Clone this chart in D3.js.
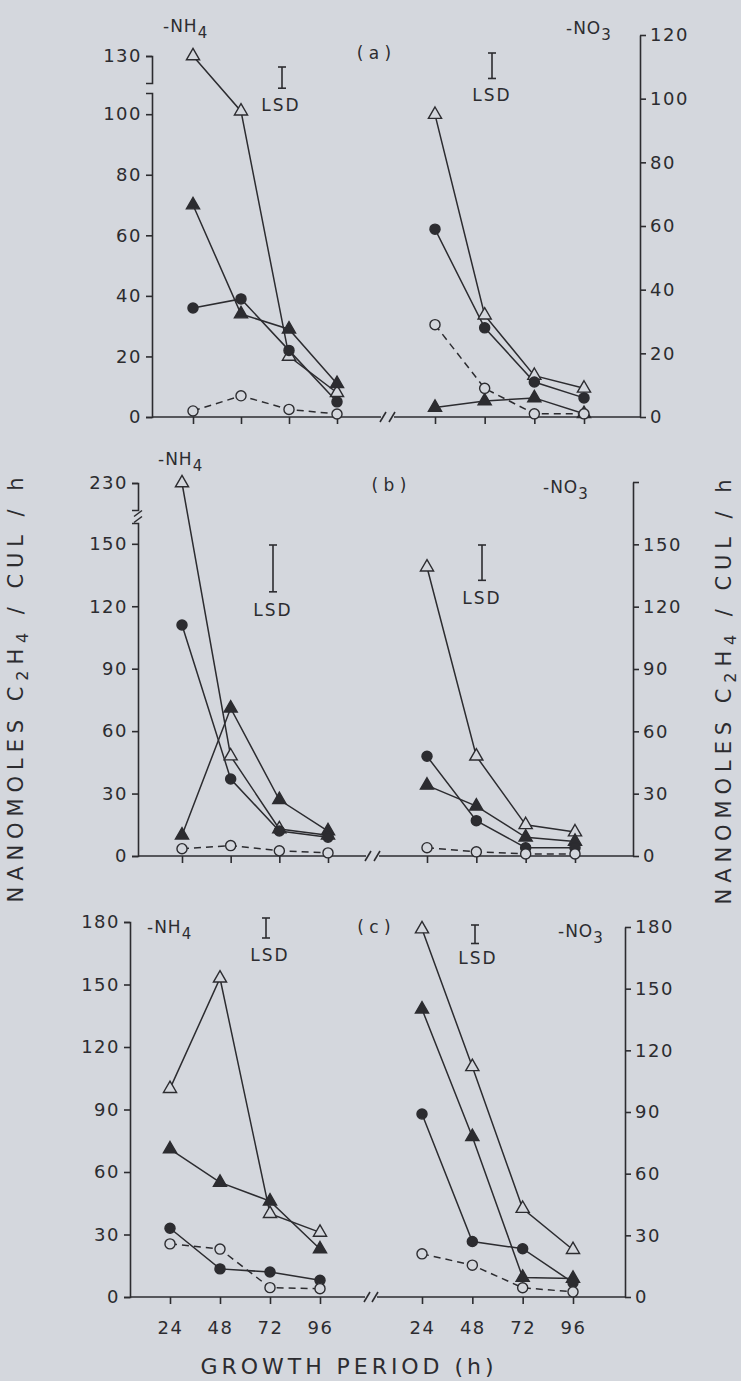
<!DOCTYPE html>
<html>
<head>
<meta charset="utf-8">
<script src="https://cdn.jsdelivr.net/npm/d3@7"></script>
<style>
body { margin: 0; background: #d4d7dd; }
svg text { font-family: "DejaVu Sans", sans-serif; fill: #2c2c30; }
</style>
</head>
<body>
<div id="chart"></div>
<script>
var svgWidth = 741;
var svgHeight = 1381;
var ink = '#2c2c30';
var paper = '#d4d7dd';

// growth period (h)
var hours = [24, 48, 72, 96];

// (a)  -NH4 side
var aNH4OpenTri = [130, 101, 20, 8];
var aNH4FilledTri = [70, 34, 29, 11];
var aNH4FilledCirc = [36, 39, 22, 5];
var aNH4OpenCirc = [2, 7, 2.5, 1];
// (a)  -NO3 side
var aNO3OpenTri = [95, 32, 13, 9];
var aNO3FilledTri = [3, 5, 6, 1];
var aNO3FilledCirc = [59, 28, 11, 6];
var aNO3OpenCirc = [29, 9, 1, 1];

// (b)  -NH4 side
var bNH4OpenTri = [230, 48, 13, 10];
var bNH4FilledTri = [10, 71, 27, 12];
var bNH4FilledCirc = [111, 37, 12, 9];
var bNH4OpenCirc = [3.5, 5, 2.5, 1.5];
// (b)  -NO3 side
var bNO3OpenTri = [139, 48, 15, 11.5];
var bNO3FilledTri = [34, 24, 9, 7];
var bNO3FilledCirc = [48, 17, 4, 4];
var bNO3OpenCirc = [4, 2, 1, 1];

// (c)  -NH4 side
var cNH4OpenTri = [100, 153, 40, 31];
var cNH4FilledTri = [71, 55, 46, 23];
var cNH4FilledCirc = [33, 13.5, 12, 8];
var cNH4OpenCirc = [25.5, 23, 4.5, 4];
// (c)  -NO3 side
var cNO3OpenTri = [179, 112, 43, 23];
var cNO3FilledTri = [140, 78, 9.5, 9];
var cNO3FilledCirc = [89, 27, 23.5, 7];
var cNO3OpenCirc = [21, 15.5, 4.5, 2.5];

// LSD bar lengths, in axis units (a, b, c)
var lsdNH4 = [7, 22.5, 9.6];
var lsdNO3 = [8, 17, 9];

// tick values
var aNH4Ticks = [0, 20, 40, 60, 80, 100];
var aNH4BreakTicks = [130];
var aNO3Ticks = [0, 20, 40, 60, 80, 100, 120];
var bNH4Ticks = [0, 30, 60, 90, 120, 150];
var bNH4BreakTicks = [230];
var bNO3Ticks = [0, 30, 60, 90, 120, 150, 180];
var cTicks = [0, 30, 60, 90, 120, 150, 180];

var seriesStyle = [
    { shape: d3.symbolTriangle, size: 75, filled: false, dash: null },
    { shape: d3.symbolTriangle, size: 75, filled: true, dash: null },
    { shape: d3.symbolCircle, size: 80, filled: true, dash: null },
    { shape: d3.symbolCircle, size: 80, filled: false, dash: '7,5' }
];

var panels = [
    {
        name: '(a)', nameX: 374, nameY: 59,
        base: 417, leftX: 152, rightX: 640, gap: [383, 392],
        xLeft: [193, 337], xRight: [435, 584], xLabels: false,
        left: { domain: [0, 107], range: [417, 93], ticks: aNH4Ticks,
                brk: { domain: [121, 130], range: [83, 56], ticks: aNH4BreakTicks, split: 110 } },
        right: { domain: [0, 120], range: [417, 35], ticks: aNO3Ticks, hideTop: false },
        nh4: [aNH4OpenTri, aNH4FilledTri, aNH4FilledCirc, aNH4OpenCirc],
        no3: [aNO3OpenTri, aNO3FilledTri, aNO3FilledCirc, aNO3OpenCirc],
        nh4Label: [163, 32], no3Label: [566, 34],
        lsdL: [282, 67, lsdNH4[0]], lsdR: [492, 53, lsdNO3[0]],
        lsdTextL: [281, 111], lsdTextR: [492, 101]
    },
    {
        name: '(b)', nameX: 389, nameY: 491,
        base: 856, leftX: 138, rightX: 633, gap: [368, 377],
        xLeft: [182, 328], xRight: [427, 575], xLabels: false,
        left: { domain: [0, 160], range: [856, 523], ticks: bNH4Ticks,
                brk: { domain: [217, 230], range: [510, 483], ticks: bNH4BreakTicks, split: 170 } },
        right: { domain: [0, 180], range: [856, 482], ticks: bNO3Ticks, hideTop: true },
        nh4: [bNH4OpenTri, bNH4FilledTri, bNH4FilledCirc, bNH4OpenCirc],
        no3: [bNO3OpenTri, bNO3FilledTri, bNO3FilledCirc, bNO3OpenCirc],
        nh4Label: [158, 465], no3Label: [543, 493],
        lsdL: [273, 545, lsdNH4[1]], lsdR: [482, 545, lsdNO3[1]],
        lsdTextL: [273, 616], lsdTextR: [482, 604]
    },
    {
        name: '(c)', nameX: 374, nameY: 933,
        base: 1297, leftX: 130, rightX: 625, gap: [367, 375],
        xLeft: [170, 320], xRight: [422, 573], xLabels: true,
        left: { domain: [0, 180], range: [1297, 922], ticks: cTicks, brk: null },
        right: { domain: [0, 180], range: [1297, 927], ticks: cTicks, hideTop: false },
        nh4: [cNH4OpenTri, cNH4FilledTri, cNH4FilledCirc, cNH4OpenCirc],
        no3: [cNO3OpenTri, cNO3FilledTri, cNO3FilledCirc, cNO3OpenCirc],
        nh4Label: [147, 933], no3Label: [558, 937],
        lsdL: [266, 918, lsdNH4[2]], lsdR: [475, 925, lsdNO3[2]],
        lsdTextL: [270, 961], lsdTextR: [478, 964]
    }
];

var svg = d3.select('#chart').append('svg')
    .attr('width', svgWidth)
    .attr('height', svgHeight)
    .style('background', paper);

function styleAxis(g) {
    g.attr('font-family', '"DejaVu Sans", sans-serif')
        .attr('font-size', 18)
        .attr('color', ink);
    g.selectAll('path, line').attr('stroke-width', 1.6);
    g.selectAll('text').attr('letter-spacing', 1.5);
}

function chemLabel(x, y, sym, sub) {
    var t = svg.append('text')
        .attr('x', x).attr('y', y)
        .attr('font-size', 17)
        .attr('letter-spacing', 1);
    t.append('tspan').text(sym);
    t.append('tspan').attr('dy', 6).attr('font-size', 15).text(sub);
}

function lsdBar(x, top, len, yScale) {
    var h = yScale(0) - yScale(len);
    var g = svg.append('g').attr('stroke', ink).attr('stroke-width', 1.6);
    g.append('line').attr('x1', x).attr('x2', x).attr('y1', top).attr('y2', top + h);
    g.append('line').attr('x1', x - 4).attr('x2', x + 4).attr('y1', top).attr('y2', top);
    g.append('line').attr('x1', x - 4).attr('x2', x + 4).attr('y1', top + h).attr('y2', top + h);
}

function drawSeries(g, xScale, yFn, list) {
    var pts = list.map(vals => hours.map((h, i) => [xScale(h), yFn(vals[i])]));
    // lines first, markers on top
    pts.forEach((p, k) => {
        g.append('path')
            .attr('d', d3.line()(p))
            .attr('fill', 'none')
            .attr('stroke', ink)
            .attr('stroke-width', 1.5)
            .attr('stroke-dasharray', seriesStyle[k].dash);
    });
    pts.forEach((p, k) => {
        var st = seriesStyle[k];
        g.selectAll(null)
            .data(p)
            .enter()
            .append('path')
            .attr('transform', d => `translate(${d[0]},${d[1]})`)
            .attr('d', d3.symbol().type(st.shape).size(st.size))
            .attr('fill', st.filled ? ink : paper)
            .attr('stroke', ink)
            .attr('stroke-width', 1.4);
    });
}

panels.forEach(function(p) {
    var xL = d3.scaleLinear().domain([24, 96]).range(p.xLeft);
    var xR = d3.scaleLinear().domain([24, 96]).range(p.xRight);

    var yL = d3.scaleLinear().domain(p.left.domain).range(p.left.range);
    var yR = d3.scaleLinear().domain(p.right.domain).range(p.right.range);
    var yBrk = p.left.brk ? d3.scaleLinear().domain(p.left.brk.domain).range(p.left.brk.range) : null;
    var yLeftFn = function(v) {
        return (yBrk && v > p.left.brk.split) ? yBrk(v) : yL(v);
    };

    // left axis (NH4)
    svg.append('g')
        .attr('transform', `translate(${p.leftX},0)`)
        .call(d3.axisLeft(yL).tickValues(p.left.ticks).tickSize(6).tickSizeOuter(6).tickPadding(4))
        .call(styleAxis);

    if (yBrk) {
        svg.append('g')
            .attr('transform', `translate(${p.leftX},0)`)
            .call(d3.axisLeft(yBrk).tickValues(p.left.brk.ticks).tickSize(6).tickSizeOuter(6).tickPadding(4))
            .call(styleAxis);
    }
    if (p.name === '(b)') {
        // break marks on the left axis
        var yb = (p.left.brk.range[0] + p.left.range[1]) / 2;
        [-3, 3].forEach(function(o) {
            svg.append('line')
                .attr('x1', p.leftX - 4).attr('x2', p.leftX + 4)
                .attr('y1', yb + o + 3).attr('y2', yb + o - 3)
                .attr('stroke', ink).attr('stroke-width', 1.5);
        });
    }

    // right axis (NO3)
    svg.append('g')
        .attr('transform', `translate(${p.rightX},0)`)
        .call(d3.axisRight(yR).tickValues(p.right.ticks).tickSize(6).tickSizeOuter(0).tickPadding(4)
            .tickFormat(d => (p.right.hideTop && d === p.right.domain[1]) ? '' : d))
        .call(styleAxis);

    // baseline with break
    var bl = svg.append('g').attr('stroke', ink).attr('stroke-width', 1.6);
    bl.append('line').attr('x1', p.leftX).attr('x2', p.gap[0] - 2).attr('y1', p.base).attr('y2', p.base);
    bl.append('line').attr('x1', p.gap[1] + 2).attr('x2', p.rightX).attr('y1', p.base).attr('y2', p.base);
    p.gap.forEach(function(gx) {
        bl.append('line').attr('x1', gx - 3).attr('x2', gx + 3)
            .attr('y1', p.base + 5).attr('y2', p.base - 5);
    });

    // x ticks
    [xL, xR].forEach(function(xs) {
        svg.append('g')
            .attr('transform', `translate(0,${p.base})`)
            .call(d3.axisBottom(xs).tickValues(hours).tickSize(7).tickSizeOuter(0).tickPadding(17)
                .tickFormat(d => p.xLabels ? d : ''))
            .call(styleAxis)
            .call(g => g.select('.domain').remove());
    });

    // series
    drawSeries(svg.append('g'), xL, yLeftFn, p.nh4);
    drawSeries(svg.append('g'), xR, yR, p.no3);

    // labels
    chemLabel(p.nh4Label[0], p.nh4Label[1], '-NH', '4');
    chemLabel(p.no3Label[0], p.no3Label[1], '-NO', '3');
    svg.append('text')
        .attr('x', p.nameX).attr('y', p.nameY)
        .attr('text-anchor', 'middle')
        .attr('font-size', 17)
        .attr('xml:space', 'preserve')
        .text(p.name.replace('(', '( ').replace(')', ' )'));

    lsdBar(p.lsdL[0], p.lsdL[1], p.lsdL[2], yL);
    lsdBar(p.lsdR[0], p.lsdR[1], p.lsdR[2], yR);
    [p.lsdTextL, p.lsdTextR].forEach(function(t) {
        svg.append('text')
            .attr('x', t[0]).attr('y', t[1])
            .attr('text-anchor', 'middle')
            .attr('font-size', 17)
            .attr('letter-spacing', 2)
            .text('LSD');
    });
});

// axis titles
function yTitle(x, y) {
    var t = svg.append('text')
        .attr('transform', `translate(${x},${y}) rotate(-90)`)
        .attr('text-anchor', 'middle')
        .attr('font-size', 21)
        .attr('textLength', 425)
        .attr('lengthAdjust', 'spacing');
    t.append('tspan').text('NANOMOLES C');
    t.append('tspan').attr('dy', 5).attr('font-size', 16).text('2');
    t.append('tspan').attr('dy', -5).text('H');
    t.append('tspan').attr('dy', 5).attr('font-size', 16).text('4');
    t.append('tspan').attr('dy', -5).text(' / CUL / h');
}
yTitle(23, 690);
yTitle(731, 692);

svg.append('text')
    .attr('x', 347).attr('y', 1374)
    .attr('text-anchor', 'middle')
    .attr('font-size', 22)
    .attr('textLength', 293)
    .attr('lengthAdjust', 'spacing')
    .text('GROWTH PERIOD (h)');
</script>
</body>
</html>
